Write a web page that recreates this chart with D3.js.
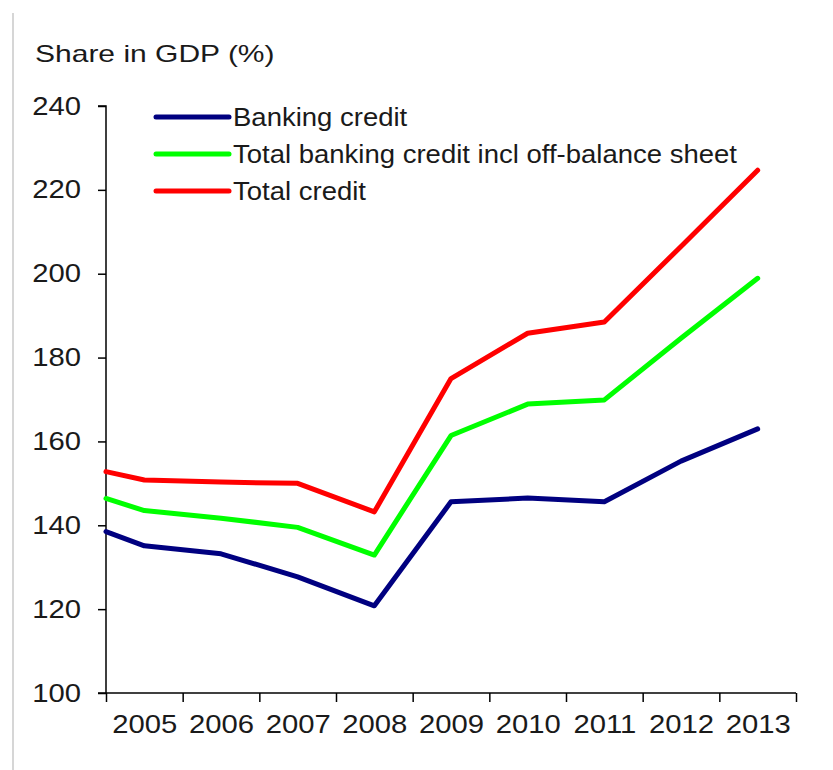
<!DOCTYPE html>
<html>
<head>
<meta charset="utf-8">
<script src="https://cdn.jsdelivr.net/npm/d3@7/dist/d3.min.js"></script>
<style>
  html, body { margin: 0; padding: 0; background: #fff; }
  svg { display: block; }
  text { font-family: "Liberation Sans", Arial, sans-serif; fill: #1a1a1a; }
</style>
</head>
<body>
<svg id="chart" width="833" height="770"></svg>
<script>
// ---- data ----
const yearLabels = ["2005","2006","2007","2008","2009","2010","2011","2012","2013"];
const periods = [2004.5, 2005, 2006, 2007, 2008, 2009, 2010, 2011, 2012, 2013]; // first point = start of axis
const bankingCredit = [138.5, 135.1, 133.2, 127.7, 120.8, 145.6, 146.5, 145.6, 155.3, 163.0];
const totalBankingCredit = [146.4, 143.5, 141.7, 139.5, 132.9, 161.4, 168.9, 169.9, 184.6, 198.9];
const totalCredit = [152.8, 150.8, 150.3, 150.0, 143.2, 175.0, 185.8, 188.5, 206.5, 224.7];
const seriesNames = ["Banking credit", "Total banking credit incl off-balance sheet", "Total credit"];
const seriesColors = ["#000080", "#00ff00", "#ff0000"];
const yTicks = [100, 120, 140, 160, 180, 200, 220, 240];
const yTitle = "Share in GDP (%)";

const series = [bankingCredit, totalBankingCredit, totalCredit];

// ---- layout ----
const svg = d3.select("#chart");
const pLeft = 106, pRight = 796, pTop = 106, pBottom = 693;

const x = d3.scaleLinear().domain([2004.5, 2013.5]).range([pLeft, pRight]);
const y = d3.scaleLinear().domain([100, 240]).range([pBottom, pTop]);

function stretch(sel, f) {
  sel.each(function() {
    const L = this.getComputedTextLength();
    d3.select(this).attr("textLength", L * f).attr("lengthAdjust", "spacingAndGlyphs");
  });
}

// left gray border line
svg.append("line").attr("x1", 13).attr("x2", 13).attr("y1", 13).attr("y2", 770)
  .attr("stroke", "#c8c8c8").attr("stroke-width", 1.5);

// title
svg.append("text").attr("x", 35).attr("y", 62).attr("font-size", 24)
  .text(yTitle).call(stretch, 1.25);

// y axis
const yAxis = svg.append("g").attr("transform", `translate(${pLeft},0)`)
  .call(d3.axisLeft(y).tickValues(yTicks).tickSize(8).tickPadding(17).tickFormat(d3.format("d")));
yAxis.selectAll("path, line").attr("stroke", "#000").attr("stroke-width", 1.5);
yAxis.select(".domain").attr("d", `M-8,${pTop}H0V${pBottom}`);
yAxis.selectAll("text").attr("font-size", 25).attr("font-family", "Liberation Sans, Arial, sans-serif")
  .attr("fill", "#1a1a1a").call(stretch, 1.17);

// x axis: boundary ticks
const boundaries = d3.range(2004.5, 2014, 1);
const xAxis = svg.append("g").attr("transform", `translate(0,${pBottom})`)
  .call(d3.axisBottom(x).tickValues(boundaries).tickSize(9).tickFormat(""));
xAxis.selectAll("path, line").attr("stroke", "#000").attr("stroke-width", 1.5);
xAxis.select(".domain").attr("d", `M${pLeft - 8},0H${pRight}`);
// x labels centered in categories
const xLab = svg.append("g").attr("transform", `translate(0,${pBottom})`)
  .call(d3.axisBottom(x).tickValues(yearLabels.map(Number)).tickSize(0).tickPadding(22).tickFormat(d => String(d)));
xLab.select(".domain").remove();
xLab.selectAll("text").attr("font-size", 25).attr("font-family", "Liberation Sans, Arial, sans-serif")
  .attr("fill", "#1a1a1a").call(stretch, 1.17);

// lines
const line = d3.line().x((d, i) => x(periods[i])).y(d => y(d));
series.forEach((s, k) => {
  svg.append("path").datum(s).attr("d", line)
    .attr("fill", "none").attr("stroke", seriesColors[k]).attr("stroke-width", 5)
    .attr("stroke-linejoin", "round").attr("stroke-linecap", "round");
});

// legend
const legend = svg.append("g");
seriesNames.forEach((name, k) => {
  const ly = 117 + k * 37;
  legend.append("line").attr("x1", 156).attr("x2", 229).attr("y1", ly).attr("y2", ly)
    .attr("stroke", seriesColors[k]).attr("stroke-width", 5).attr("stroke-linecap", "round");
  legend.append("text").attr("x", 233).attr("y", ly + 9).attr("font-size", 25)
    .text(name).call(stretch, 1.1);
});
</script>
</body>
</html>
